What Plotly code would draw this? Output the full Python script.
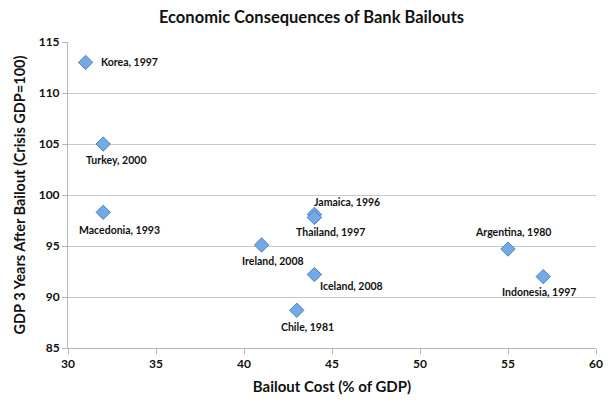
import plotly.graph_objects as go

names = ["Korea, 1997", "Turkey, 2000", "Macedonia, 1993", "Ireland, 2008",
         "Jamaica, 1996", "Thailand, 1997", "Iceland, 2008", "Chile, 1981",
         "Argentina, 1980", "Indonesia, 1997"]
bailout_cost = [31, 32, 32, 41, 44, 44, 44, 43, 55, 57]
gdp_after = [113.0, 105.0, 98.3, 95.1, 98.1, 97.8, 92.2, 88.7, 94.7, 92.0]

x_ticks = [30, 35, 40, 45, 50, 55, 60]
y_ticks = [85, 90, 95, 100, 105, 110, 115]

# label offsets in pixels (xshift, yshift, xanchor)
label_offsets = {
    "Korea, 1997": (13, 0, "left"),
    "Turkey, 2000": (13, -16, "center"),
    "Macedonia, 1993": (16, -18, "center"),
    "Ireland, 2008": (11, -16, "center"),
    "Jamaica, 1996": (33, 12, "center"),
    "Thailand, 1997": (16, -15, "center"),
    "Iceland, 2008": (37, -11, "center"),
    "Chile, 1981": (11, -17, "center"),
    "Argentina, 1980": (5, 17, "center"),
    "Indonesia, 1997": (-4, -15, "center"),
}

FONT = "Lato, 'Open Sans', sans-serif"

fig = go.Figure()
fig.add_trace(go.Scatter(
    x=bailout_cost, y=gdp_after, mode="markers",
    marker=dict(symbol="diamond", size=11, color="#72A9E6",
                line=dict(color="#4F81BD", width=1)),
    hoverinfo="skip", showlegend=False,
))

for n, xv, yv in zip(names, bailout_cost, gdp_after):
    dx, dy, anc = label_offsets[n]
    fig.add_annotation(x=xv, y=yv, text=n, showarrow=False,
                       xanchor=anc, yanchor="middle", xshift=dx, yshift=dy,
                       font=dict(family=FONT, size=10.5, color="#111111", weight="bold"))

axis_common = dict(showline=True, linecolor="#B7B7B7", linewidth=1,
                   ticks="outside", tickcolor="#B7B7B7", ticklen=5,
                   tickfont=dict(family=FONT, size=12, color="#111111", weight="bold"),
                   zeroline=False)

fig.update_xaxes(range=[30, 60], tickvals=x_ticks, showgrid=False,
                 title=dict(text="Bailout Cost (% of GDP)",
                            font=dict(family=FONT, size=15, color="#111111", weight="bold"),
                            standoff=11),
                 **axis_common)
fig.update_yaxes(range=[85, 115], tickvals=y_ticks, showgrid=True,
                 gridcolor="#C8C8C8", gridwidth=1,
                 title=dict(text="GDP 3 Years After Bailout (Crisis GDP=100)",
                            font=dict(family=FONT, size=14.5, color="#111111", weight="bold"),
                            standoff=9),
                 **axis_common)

# the page body adds an 8px margin, so the figure is sized to fit the window
fig.update_layout(
    width=607, height=399,
    margin=dict(l=55, r=16, t=34, b=59),
    paper_bgcolor="white", plot_bgcolor="white",
    title=dict(text="Economic Consequences of Bank Bailouts", x=0.5, xanchor="center",
               y=0.9775, yanchor="middle",
               font=dict(family=FONT, size=16.5, color="#111111", weight="bold")),
)

fig.write_html("out.html")
